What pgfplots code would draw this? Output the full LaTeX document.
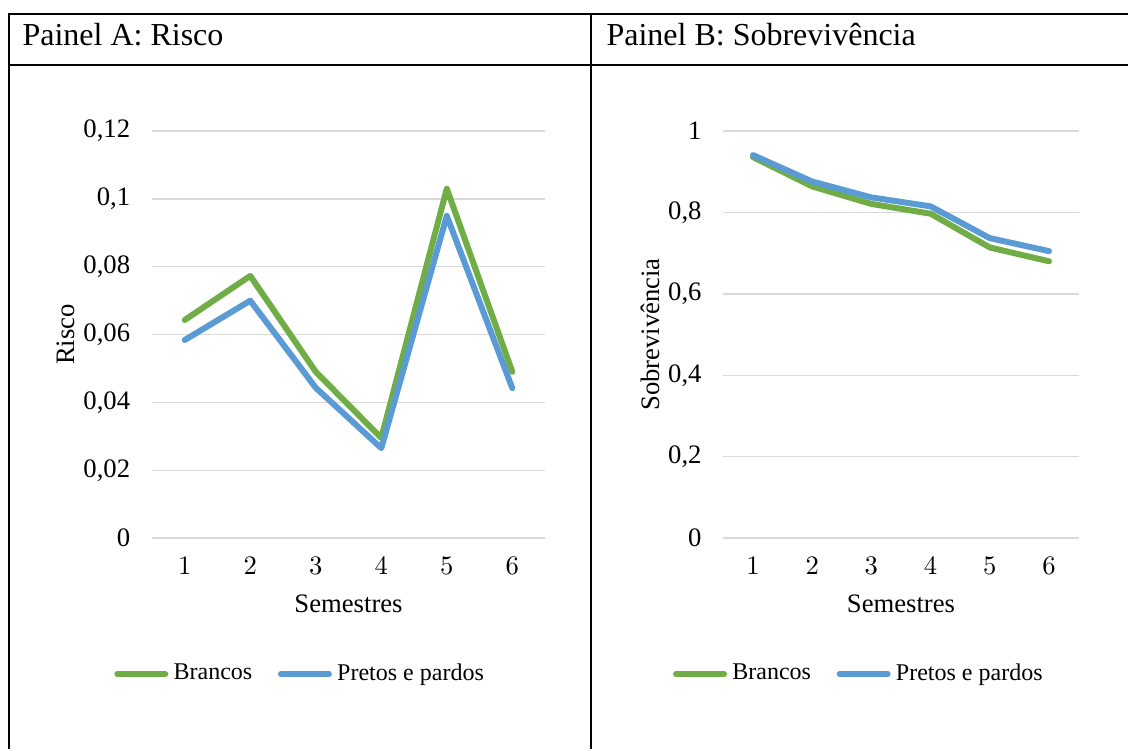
\documentclass[border=0pt]{standalone}
\usepackage{fontspec}
\setmainfont{Liberation Serif}
\usepackage{pgfplots}
\pgfplotsset{compat=1.18}

\definecolor{brancos}{HTML}{70AD47}
\definecolor{pretos}{HTML}{5B9BD5}
\definecolor{grade}{HTML}{D9D9D9}

% risco por semestre
\pgfplotstableread{
sem brancos pretos
1 0.0643 0.0584
2 0.0773 0.0700
3 0.0490 0.0443
4 0.0295 0.0265
5 0.1030 0.0950
6 0.0490 0.0442
}\risco

% sobrevivencia acumulada
\pgfplotstableread{
sem brancos pretos
1 0.936 0.941
2 0.864 0.876
3 0.821 0.837
4 0.797 0.815
5 0.714 0.737
6 0.680 0.705
}\sobrev

\pgfplotsset{
  painel/.style={
    scale only axis,
    anchor=south west,
    height=152.6pt,
    xmin=0.5, xmax=6.5,
    xtick={1,...,6},
    axis line style={draw=none},
    major tick length=0pt,
    ymajorgrids,
    grid style={grade, line width=0.5pt},
    tick label style={font=\fontsize{10pt}{12pt}\selectfont},
    label style={font=\fontsize{10pt}{12pt}\selectfont},
    yticklabel style={inner sep=0pt, anchor=east, xshift=-8pt},
    xticklabel style={inner sep=0pt, anchor=north, yshift=-7pt},
    xlabel={Semestres},
    xlabel style={inner sep=0pt, at={(axis description cs:0.5,-0.162)}, anchor=center},
    ylabel style={inner sep=0pt, anchor=center},
    legend columns=2,
    legend style={draw=none, fill=none, font=\fontsize{9pt}{11pt}\selectfont,
      anchor=center, inner sep=0pt,
      /tikz/every even column/.append style={column sep=7.6pt}},
    legend image code/.code={\draw[#1, line cap=round] (1pt,0pt) -- (19pt,0pt);},
    every axis plot/.append style={line width=2.25pt, line join=round, line cap=round},
  }
}

\begin{document}
\begin{tikzpicture}
\begin{scope}[x=0.375pt, y=-0.375pt]
\useasboundingbox (0,0) rectangle (1128,749);
% moldura da tabela
\draw[line width=0.75pt] (8,14) -- (1128,14);
\draw[line width=0.75pt] (8,65) -- (1128,65);
\draw[line width=0.75pt] (9,14) -- (9,749);
\draw[line width=0.75pt] (591,14) -- (591,749);
\node[anchor=base west, inner sep=0pt, font=\fontsize{12pt}{14pt}\selectfont] at (22,45) {Painel A: Risco};
\node[anchor=base west, inner sep=0pt, font=\fontsize{12pt}{14pt}\selectfont] at (606,45) {Painel B: Sobrevivência};
\end{scope}

\begin{axis}[painel,
  at={(57pt,-201.75pt)}, width=147.4pt,
  ymin=0, ymax=0.12,
  ytick={0,0.02,0.04,0.06,0.08,0.1,0.12},
  yticklabels={0,{0,02},{0,04},{0,06},{0,08},{0,1},{0,12}},
  ylabel={Risco},
  ylabel style={at={(axis description cs:-0.219,0.5)}},
  legend style={at={(axis description cs:0.381,-0.334)}},
]
\addplot[brancos] table[x=sem, y=brancos] {\risco};
\addlegendentry{Brancos}
\addplot[pretos] table[x=sem, y=pretos] {\risco};
\addlegendentry{Pretos e pardos}
\end{axis}

\begin{axis}[painel,
  at={(271.275pt,-201.75pt)}, width=133.2pt,
  ymin=0, ymax=1,
  ytick={0,0.2,0.4,0.6,0.8,1},
  yticklabels={0,{0,2},{0,4},{0,6},{0,8},1},
  ylabel={Sobrevivência},
  ylabel style={at={(axis description cs:-0.207,0.5)}},
  legend style={at={(axis description cs:0.386,-0.334)}},
]
\addplot[brancos] table[x=sem, y=brancos] {\sobrev};
\addlegendentry{Brancos}
\addplot[pretos] table[x=sem, y=pretos] {\sobrev};
\addlegendentry{Pretos e pardos}
\end{axis}
\end{tikzpicture}
\end{document}
